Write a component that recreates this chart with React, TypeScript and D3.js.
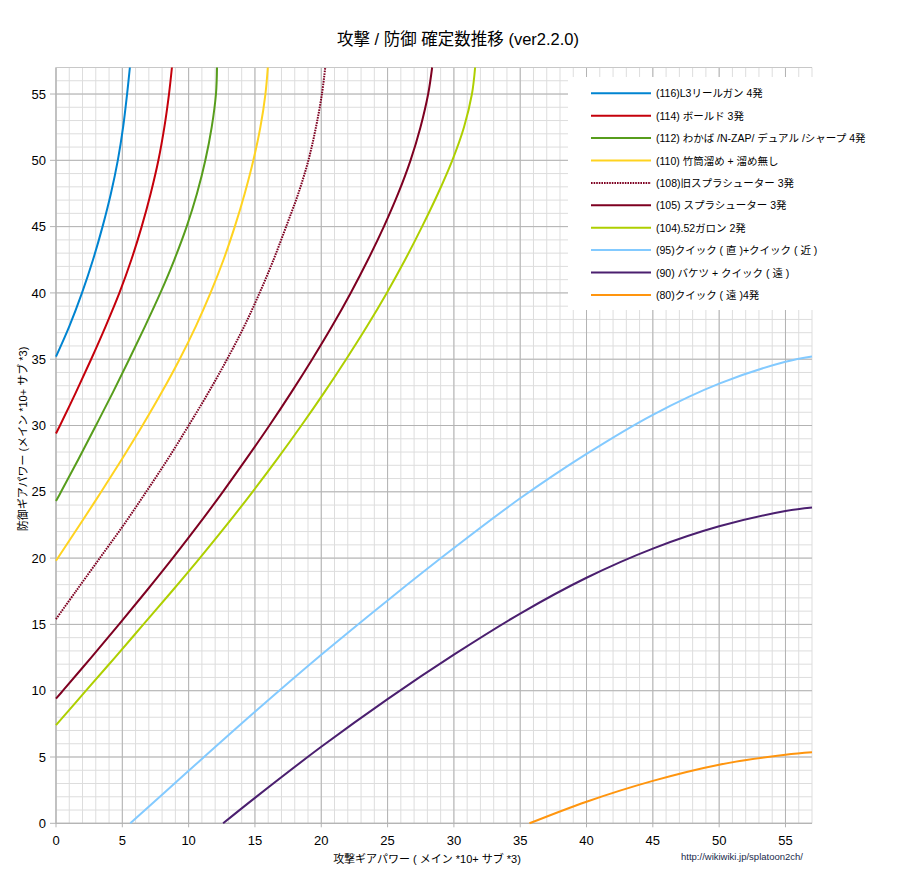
import React from 'react';
import * as d3 from 'd3';

const W = 916;
const H = 873;
const PL = 56, PR = 812, PT = 67.5, PB = 823.3;

const xTicks = [0, 5, 10, 15, 20, 25, 30, 35, 40, 45, 50, 55];
const yTicks = [0, 5, 10, 15, 20, 25, 30, 35, 40, 45, 50, 55];

// (116)
const atk116 = [0, 1.01, 1.96, 2.79, 3.51, 4.14, 4.66, 5.06, 5.36, 5.57];
const def116 = [35.2, 37.5, 40, 42.5, 45, 47.5, 50, 52.5, 55, 57];
// (114)
const atk114 = [0, 0.3, 1.5, 2.65, 3.75, 4.78, 5.68, 6.46, 7.14, 7.72, 8.17, 8.52, 8.74];
const def114 = [29.4, 30, 32.5, 35, 37.5, 40, 42.5, 45, 47.5, 50, 52.5, 55, 57];
// (112)
const atk112 = [0, 0.38, 1.71, 3.01, 4.29, 5.52, 6.72, 7.87, 8.92, 9.85, 10.63, 11.26, 11.74, 12.06, 12.14];
const def112 = [24.3, 25, 27.5, 30, 32.5, 35, 37.5, 40, 42.5, 45, 47.5, 50, 52.5, 55, 57];
// (110)
const atk110 = [0, 1.78, 3.41, 4.99, 6.52, 7.97, 9.32, 10.55, 11.65, 12.63, 13.48, 14.23, 14.88, 15.41, 15.79, 15.97];
const def110 = [19.8, 22.5, 25, 27.5, 30, 32.5, 35, 37.5, 40, 42.5, 45, 47.5, 50, 52.5, 55, 57];
// (108)
const atk108 = [0, 1.5, 3.3, 5.1, 6.8, 8.45, 10.0, 11.5, 12.9, 14.2, 15.35, 16.4, 17.35, 18.27, 19.03, 19.6, 20.05, 20.3];
const def108 = [15.4, 17.5, 20, 22.5, 25, 27.5, 30, 32.5, 35, 37.5, 40, 42.5, 45, 47.5, 50, 52.5, 55, 57];
// (105)
const atk105 = [0, 0.52, 2.65, 4.75, 6.8, 8.8, 10.73, 12.58, 14.36, 16.09, 17.74, 19.32, 20.82, 22.22, 23.52, 24.72, 25.8, 26.73, 27.48, 28.06, 28.36];
const def105 = [9.4, 10, 12.5, 15, 17.5, 20, 22.5, 25, 27.5, 30, 32.5, 35, 37.5, 40, 42.5, 45, 47.5, 50, 52.5, 55, 57];
// (104)
const atk104 = [0, 2.26, 4.44, 6.59, 8.74, 10.84, 12.87, 14.82, 16.7, 18.5, 20.23, 21.88, 23.46, 24.94, 26.32, 27.6, 28.8, 29.88, 30.76, 31.36, 31.6];
const def104 = [7.4, 10, 12.5, 15, 17.5, 20, 22.5, 25, 27.5, 30, 32.5, 35, 37.5, 40, 42.5, 45, 47.5, 50, 52.5, 55, 57];
// (95)
const atk95 = [5.6, 10, 15, 20, 25, 30, 35, 40, 45, 50, 55, 57];
const def95 = [0, 3.96, 8.41, 12.71, 16.81, 20.76, 24.51, 27.86, 30.81, 33.16, 34.81, 35.21];
// (90)
const atk90 = [12.6, 15, 20, 25, 30, 35, 40, 45, 50, 55, 57];
const def90 = [0, 1.92, 5.77, 9.37, 12.72, 15.82, 18.52, 20.72, 22.4, 23.55, 23.82];
// (80)
const atk80 = [35.7, 40, 45, 50, 55, 57];
const def80 = [0, 1.63, 3.2, 4.42, 5.17, 5.35];

const seriesLabels = [
  '(116)L3リールガン 4発',
  '(114) ボールド 3発',
  '(112) わかば /N-ZAP/ デュアル /シャープ 4発',
  '(110) 竹筒溜め + 溜め無し',
  '(108)旧スプラシューター 3発',
  '(105) スプラシューター 3発',
  '(104).52ガロン 2発',
  '(95)クイック ( 直 )+クイック ( 近 )',
  '(90) バケツ + クイック ( 遠 )',
  '(80)クイック ( 遠 )4発',
];
const seriesAtk = [atk116, atk114, atk112, atk110, atk108, atk105, atk104, atk95, atk90, atk80];
const seriesDef = [def116, def114, def112, def110, def108, def105, def104, def95, def90, def80];
const seriesColors = ['#0084d1', '#c5000b', '#579d1c', '#ffd320', '#7e0021', '#7e0021', '#aecf00', '#83caff', '#4b1f6f', '#ff950e'];
const seriesDash = [null, null, null, null, '1.6 1', null, null, null, null, null];

const FONT = "'Liberation Sans', 'Noto Sans CJK JP', sans-serif";

export default function App() {
  const x = d3.scaleLinear().domain([0, 57]).range([PL, PR]);
  const y = d3.scaleLinear().domain([0, 57]).range([PB, PT]);
  const minor = d3.range(0, 58, 1);
  const line = d3
    .line<[number, number]>()
    .x((d) => x(d[0]))
    .y((d) => y(d[1]))
    .curve(d3.curveCatmullRom.alpha(0.5));

  const legendX0 = 591, legendX1 = 651, legendTextX = 656, legendY0 = 93.3, legendDY = 22.4;

  return (
    <svg
      width={W}
      height={H}
      style={{ position: 'absolute', left: 0, top: 0, background: '#fff' }}
      fontFamily={FONT}
    >
      <rect x={0} y={0} width={W} height={H} fill="#fff" />
      <text x={458} y={45} fontSize={16.5} textAnchor="middle" fill="#000">
        攻撃 / 防御 確定数推移 (ver2.2.0)
      </text>
      {/* minor grid */}
      {minor.map((v) => (
        <line key={'mx' + v} x1={x(v)} x2={x(v)} y1={PT} y2={PB} stroke="#dddddd" strokeWidth={1} />
      ))}
      {minor.map((v) => (
        <line key={'my' + v} x1={PL} x2={PR} y1={y(v)} y2={y(v)} stroke="#dddddd" strokeWidth={1} />
      ))}
      {/* major grid */}
      {xTicks.map((v) => (
        <line key={'Mx' + v} x1={x(v)} x2={x(v)} y1={PT} y2={PB + 4} stroke="#b3b3b3" strokeWidth={1} />
      ))}
      {yTicks.map((v) => (
        <line key={'My' + v} x1={PL - 6} x2={PR} y1={y(v)} y2={y(v)} stroke="#b3b3b3" strokeWidth={1} />
      ))}
      <line x1={PL} x2={PL} y1={PT} y2={PB} stroke="#b3b3b3" />
      <line x1={PL} x2={PR} y1={PB} y2={PB} stroke="#b3b3b3" />
      <line x1={PL} x2={PR} y1={PT} y2={PT} stroke="#c8c8c8" />
      {/* tick labels */}
      {xTicks.map((v) => (
        <text key={'tx' + v} x={x(v)} y={845} fontSize={13} textAnchor="middle" fill="#000">
          {v}
        </text>
      ))}
      {yTicks.map((v) => (
        <text key={'ty' + v} x={46} y={y(v) + 4.6} fontSize={13} textAnchor="end" fill="#000">
          {v}
        </text>
      ))}
      {/* axis titles */}
      <text x={427} y={863} fontSize={11} textAnchor="middle" fill="#000">
        攻撃ギアパワー ( メイン *10+ サブ *3)
      </text>
      <text
        transform={`translate(27,439) rotate(-90)`}
        fontSize={11}
        textAnchor="middle"
        fill="#000"
      >
        防御ギアパワー (メイン *10+ サブ *3)
      </text>
      <text x={803} y={860} fontSize={9.5} textAnchor="end" fill="#1a2a4a">
        http://wikiwiki.jp/splatoon2ch/
      </text>
      {/* series */}
      <g>
        {seriesAtk.map((atk, i) => {
          const pts: [number, number][] = atk.map((a, j) => [a, seriesDef[i][j]]);
          return (
            <path
              key={'s' + i}
              d={line(pts) || ''}
              fill="none"
              stroke={seriesColors[i]}
              strokeWidth={2}
              strokeDasharray={seriesDash[i] || undefined}
              strokeLinejoin="round"
            />
          );
        })}
      </g>
      {/* legend */}
      <rect x={568} y={77} width={300} height={233} fill="#fff" />
      {seriesLabels.map((lab, i) => {
        const ly = legendY0 + i * legendDY;
        return (
          <g key={'lg' + i}>
            <line
              x1={legendX0}
              x2={legendX1}
              y1={ly}
              y2={ly}
              stroke={seriesColors[i]}
              strokeWidth={2}
              strokeDasharray={seriesDash[i] || undefined}
            />
            <text x={legendTextX} y={ly + 4} fontSize={10.5} fill="#000">
              {lab}
            </text>
          </g>
        );
      })}
    </svg>
  );
}
